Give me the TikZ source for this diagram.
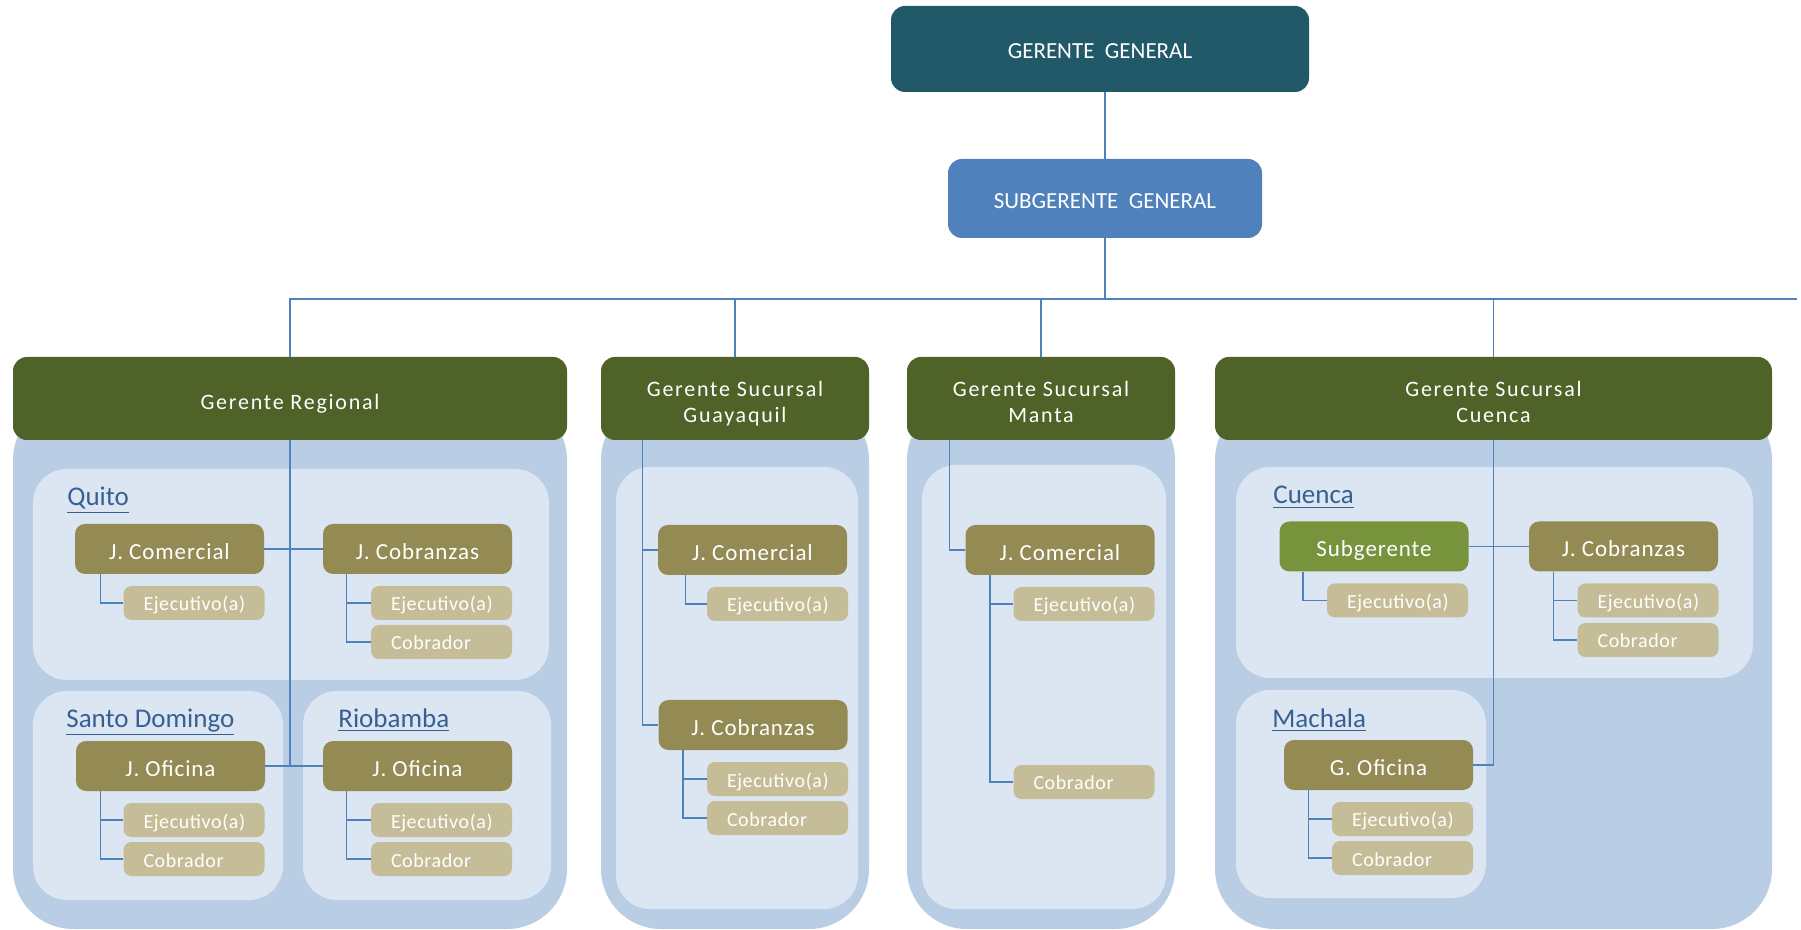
\documentclass[tikz,border=0pt]{standalone}
\usepackage{fontspec}
\setmainfont{Carlito}
\newfontfamily\hdfont{Carlito}[LetterSpace=8]
\newfontfamily\jfont{Carlito}[LetterSpace=4]
\newfontfamily\tfont{Carlito}[LetterSpace=3]
\usepackage{xcolor}
\usepackage{tikz}

\definecolor{ggteal}{RGB}{33,89,104}
\definecolor{subblue}{RGB}{79,129,189}
\definecolor{mgrgreen}{RGB}{79,98,40}
\definecolor{jolive}{RGB}{148,138,84}
\definecolor{jtan}{RGB}{196,189,151}
\definecolor{subgreen}{RGB}{119,147,60}
\definecolor{panelout}{RGB}{185,205,229}
\definecolor{panelin}{RGB}{220,230,242}
\definecolor{linkblue}{RGB}{79,129,189}
\definecolor{cityblue}{RGB}{54,96,146}

\tikzset{
  topbox/.style={rounded corners=7pt, text=white, inner sep=0pt, text height=10pt, text depth=0pt,
    font=\fontsize{11.5}{14}\selectfont},
  mgrbox/.style={fill=mgrgreen, rounded corners=7pt, text=white, align=center, inner sep=0pt,
    text height=11pt, text depth=0pt, minimum height=41.5pt, font=\hdfont\fontsize{11}{12.75}\selectfont},
  twoline/.style={text height=24pt},
  jbox/.style={fill=jolive, rounded corners=5pt, text=white, inner sep=0pt, text height=10.4pt, text depth=0pt,
    minimum width=94.5pt, minimum height=25pt, font=\jfont\fontsize{11.5}{14}\selectfont},
  tbox/.style={fill=jtan, rounded corners=4pt, text=white, text width=50.5pt, align=left,
    inner xsep=10pt, inner ysep=0pt, text height=8pt, text depth=0pt, minimum height=17pt,
    font=\tfont\fontsize{10}{12}\selectfont},
  city/.style={anchor=base west, text=cityblue, inner sep=0pt, font=\fontsize{13.5}{16}\selectfont},
  outpanel/.style={fill=panelout, rounded corners=30pt},
  inpanel/.style={fill=panelin, rounded corners=17pt},
  link/.style={draw=linkblue, line width=0.75pt},
}

\begin{document}
\begin{tikzpicture}[x=0.5pt,y=0.5pt,yscale=-1]
\useasboundingbox (0,0) rectangle (1801,930);

% outer panels
\fill[outpanel] (13,400) rectangle (567,929);
\fill[outpanel] (601,400) rectangle (869,929);
\fill[outpanel] (907,400) rectangle (1175,929);
\fill[outpanel] (1215,400) rectangle (1772,929);
% inner panels
\fill[inpanel] (33,469) rectangle (549,680);
\fill[inpanel] (33,691) rectangle (283,900);
\fill[inpanel] (303,691) rectangle (551,900);
\fill[inpanel] (616,467) rectangle (858,909);
\fill[inpanel] (922,465) rectangle (1166,909);
\fill[inpanel] (1236,467) rectangle (1753,678);
\fill[inpanel] (1236,690) rectangle (1486,898);

% top management
\node[topbox, fill=ggteal, minimum width=209pt, minimum height=43pt] (gg) at (1100,49) {GERENTE\ \ GENERAL};
\node[topbox, fill=subblue, minimum width=157pt, minimum height=39.5pt] (sg) at (1105,198.5) {SUBGERENTE\ \ GENERAL};
\coordinate (busend) at (1797,299);

% managers
\node[mgrbox, minimum width=277pt] (reg) at (290,398.5) {Gerente Regional};
\node[mgrbox, twoline, minimum width=134pt] (gye) at (735,398.5) {Gerente Sucursal\\Guayaquil};
\node[mgrbox, twoline, minimum width=134pt] (mta) at (1041,398.5) {Gerente Sucursal\\Manta};
\node[mgrbox, twoline, minimum width=278.5pt] (cue) at (1493.5,398.5) {Gerente Sucursal\\Cuenca};

% regional offices
\node[city] (lquito) at (67,506) {\underline{Quito}};
\node[city] (lsd) at (66,727) {\underline{Santo Domingo}};
\node[city] (lrio) at (338,727) {\underline{Riobamba}};
\node[jbox] (rjc) at (169.5,549) {J. Comercial};
\node[tbox] (rjce) at (194,603) {Ejecutivo(a)};
\node[jbox] (rjcob) at (417.5,549) {J. Cobranzas};
\node[tbox] (rcobe) at (441.5,603) {Ejecutivo(a)};
\node[tbox] (rcobc) at (441.5,642) {Cobrador};
\node[jbox] (sdof) at (170.5,766) {J. Oficina};
\node[tbox] (sde) at (194,820) {Ejecutivo(a)};
\node[tbox] (sdc) at (194,859) {Cobrador};
\node[jbox] (riof) at (417.5,766) {J. Oficina};
\node[tbox] (rioe) at (441.5,820) {Ejecutivo(a)};
\node[tbox] (rioc) at (441.5,859) {Cobrador};

% guayaquil
\node[jbox] (gjc) at (752.5,550) {J. Comercial};
\node[tbox] (gjce) at (777.5,604) {Ejecutivo(a)};
\node[jbox] (gjcob) at (753,725) {J. Cobranzas};
\node[tbox] (gcobe) at (777.5,779) {Ejecutivo(a)};
\node[tbox] (gcobc) at (777.5,818) {Cobrador};

% manta
\node[jbox] (mjc) at (1060,550) {J. Comercial};
\node[tbox] (mjce) at (1084,604) {Ejecutivo(a)};
\node[tbox] (mjcc) at (1084,782) {Cobrador};

% cuenca and machala
\node[city] (lcue) at (1273,504) {\underline{Cuenca}};
\node[city] (lmch) at (1272,727) {\underline{Machala}};
\node[jbox, fill=subgreen] (csub) at (1374,546.5) {Subgerente};
\node[tbox] (csube) at (1397.5,600.5) {Ejecutivo(a)};
\node[jbox] (cjcob) at (1623.5,546.5) {J. Cobranzas};
\node[tbox] (ccobe) at (1648,600.5) {Ejecutivo(a)};
\node[tbox] (ccobc) at (1648,640) {Cobrador};
\node[jbox] (mof) at (1378.5,765) {G. Oficina};
\node[tbox] (mofe) at (1402.5,819) {Ejecutivo(a)};
\node[tbox] (mofc) at (1402.5,858) {Cobrador};

% connectors
\draw[link] (sg.north) -- (sg.north |- gg.south);
\draw[link] (sg.south) -- (sg.south |- busend);
\draw[link] (reg.north) |- (busend);
\draw[link] (gye.north) -- (gye.north |- busend);
\draw[link] (mta.north) -- (mta.north |- busend);
\draw[link] (cue.north) -- (cue.north |- busend);

\draw[link] (reg.south) -- (reg.south |- sdof.east);
\draw[link] (rjc.east) -- (rjcob.west);
\draw[link] (sdof.east) -- (riof.west);
\draw[link] ([xshift=13pt]rjc.south west) |- (rjce.west);
\draw[link] ([xshift=12pt]rjcob.south west) |- (rcobe.west);
\draw[link] ([xshift=12pt]rjcob.south west) |- (rcobc.west);
\draw[link] ([xshift=12.5pt]sdof.south west) |- (sde.west);
\draw[link] ([xshift=12.5pt]sdof.south west) |- (sdc.west);
\draw[link] ([xshift=12pt]riof.south west) |- (rioe.west);
\draw[link] ([xshift=12pt]riof.south west) |- (rioc.west);

\draw[link] ([xshift=21pt]gye.south west) |- (gjc.west);
\draw[link] ([xshift=21pt]gye.south west) |- (gjcob.west);
\draw[link] ([xshift=14pt]gjc.south west) |- (gjce.west);
\draw[link] ([xshift=12.5pt]gjcob.south west) |- (gcobe.west);
\draw[link] ([xshift=12.5pt]gjcob.south west) |- (gcobc.west);

\draw[link] ([xshift=21.5pt]mta.south west) |- (mjc.west);
\draw[link] ([xshift=12.5pt]mjc.south west) |- (mjce.west);
\draw[link] ([xshift=12.5pt]mjc.south west) |- (mjcc.west);

\draw[link] (cue.south) |- (mof.east);
\draw[link] (csub.east) -- (cjcob.west);
\draw[link] ([xshift=12pt]csub.south west) |- (csube.west);
\draw[link] ([xshift=12.5pt]cjcob.south west) |- (ccobe.west);
\draw[link] ([xshift=12.5pt]cjcob.south west) |- (ccobc.west);
\draw[link] ([xshift=12.5pt]mof.south west) |- (mofe.west);
\draw[link] ([xshift=12.5pt]mof.south west) |- (mofc.west);
\end{tikzpicture}
\end{document}
